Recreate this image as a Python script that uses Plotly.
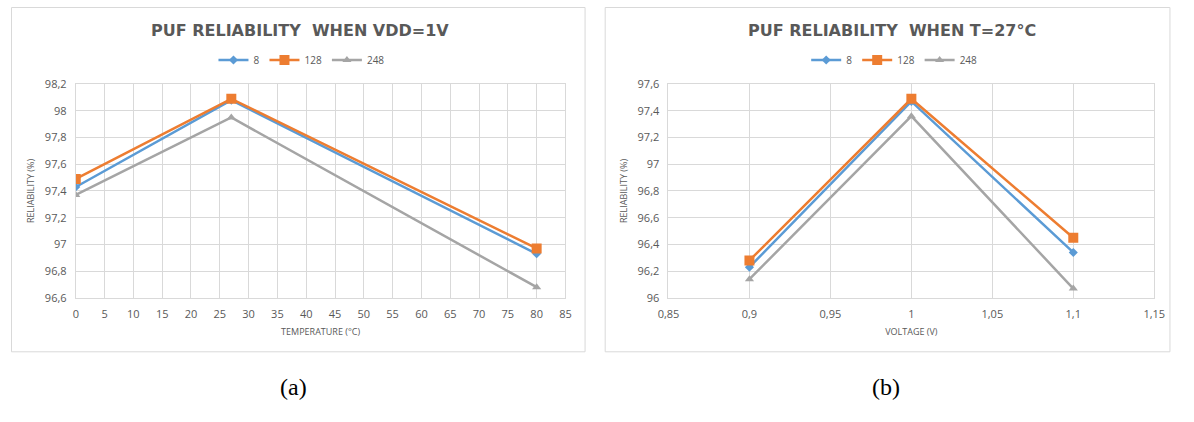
import plotly.graph_objects as go

# Reliability (%) versus temperature at VDD = 1 V
temperature = [0, 27, 80]
temp_rel_8 = [97.43, 98.08, 96.93]
temp_rel_128 = [97.49, 98.09, 96.97]
temp_rel_248 = [97.37, 97.95, 96.68]

# Reliability (%) versus supply voltage at T = 27 °C
voltage = [0.9, 1.0, 1.1]
volt_rel_8 = [96.23, 97.47, 96.34]
volt_rel_128 = [96.28, 97.49, 96.45]
volt_rel_248 = [96.14, 97.36, 96.07]

series_names = ["8", "128", "248"]
colors = ["#5B9BD5", "#ED7D31", "#A5A5A5"]
symbols = ["diamond", "square", "triangle-up"]
sizes = [7, 10, 8]

# The page body keeps its default 8px margin, so the figure is sized to fit
PAGE_W, PAGE_H, BODY_M = 1194, 422, 8
W, H = PAGE_W - 2 * BODY_M, PAGE_H - 2 * BODY_M


def px(x):
    return (x - BODY_M) / W


def py(y):
    return 1 - (y - BODY_M) / H


TXT = "#595959"
GRID = "#D9D9D9"
FONT = "Open Sans"

fig = go.Figure()

panels = [
    dict(x=temperature, ys=[temp_rel_8, temp_rel_128, temp_rel_248],
         xa="x", ya="y", legend="legend"),
    dict(x=voltage, ys=[volt_rel_8, volt_rel_128, volt_rel_248],
         xa="x2", ya="y2", legend="legend2"),
]

for p in panels:
    for name, ys, c, s, sz in zip(series_names, p["ys"], colors, symbols, sizes):
        fig.add_trace(go.Scatter(
            x=p["x"], y=ys, name=name, mode="lines+markers",
            line=dict(color=c, width=2.5),
            marker=dict(symbol=s, size=sz, color=c),
            xaxis=p["xa"], yaxis=p["ya"], legend=p["legend"],
        ))

y_dom = [py(309), py(87)]
axis_common = dict(
    showgrid=True, gridcolor=GRID, gridwidth=1,
    showline=True, linecolor=GRID, linewidth=1, mirror=True,
    zeroline=False, ticks="", ticklabelstandoff=6,
    tickfont=dict(family=FONT, size=11, color=TXT),
)

fig.update_layout(
    width=W, height=H,
    margin=dict(l=0, r=0, t=0, b=0),
    paper_bgcolor="white", plot_bgcolor="white",
    separators=",.",
    showlegend=True,
    xaxis=dict(axis_common, domain=[px(74), px(573)], range=[0, 85], dtick=5,
               anchor="y",
               title=dict(text="TEMPERATURE (°C)", standoff=8,
                          font=dict(family=FONT, size=9, color=TXT))),
    yaxis=dict(axis_common, domain=y_dom, range=[96.6, 98.2], dtick=0.2,
               anchor="x",
               title=dict(text="RELIABILITY (%)", standoff=8,
                          font=dict(family=FONT, size=9, color=TXT))),
    xaxis2=dict(axis_common, domain=[px(678), px(1173)], range=[0.85, 1.15],
                dtick=0.05, anchor="y2",
                title=dict(text="VOLTAGE (V)", standoff=8,
                           font=dict(family=FONT, size=9, color=TXT))),
    yaxis2=dict(axis_common, domain=y_dom, range=[96, 97.6], dtick=0.2,
                anchor="x2",
                title=dict(text="RELIABILITY (%)", standoff=8,
                           font=dict(family=FONT, size=9, color=TXT))),
    legend=dict(orientation="h", x=px(304), xanchor="center", y=py(62),
                yanchor="middle", font=dict(family=FONT, size=10, color=TXT),
                itemwidth=30, bgcolor="rgba(0,0,0,0)", tracegroupgap=0),
    legend2=dict(orientation="h", x=px(908), xanchor="center", y=py(62),
                 yanchor="middle", font=dict(family=FONT, size=10, color=TXT),
                 itemwidth=30, bgcolor="rgba(0,0,0,0)", tracegroupgap=0),
)

# Panel frames
for x0, x1 in [(8, 593), (613, 1189)]:
    fig.add_shape(type="rect", xref="paper", yref="paper",
                  x0=px(x0) + 0.5 / W, x1=px(x1), y0=py(365), y1=py(7) - 0.5 / H,
                  line=dict(color=GRID, width=1), fillcolor="rgba(0,0,0,0)",
                  layer="below")

# Panel titles
for text, xc in [("PUF RELIABILITY  WHEN VDD=1V", 302),
                 ("PUF RELIABILITY  WHEN T=27°C", 906)]:
    fig.add_annotation(text="<b>" + text + "</b>", xref="paper", yref="paper",
                       x=px(xc), y=py(31), showarrow=False,
                       xanchor="center", yanchor="middle",
                       font=dict(family="DejaVu Sans", size=16, color=TXT))

# Sub-figure labels
for text, xc in [("(a)", 296), ("(b)", 900)]:
    fig.add_annotation(text=text, xref="paper", yref="paper",
                       x=px(xc), y=py(402), showarrow=False,
                       xanchor="center", yanchor="middle",
                       font=dict(family="Liberation Serif", size=24,
                                 color="black"))

fig.write_html("out.html")
